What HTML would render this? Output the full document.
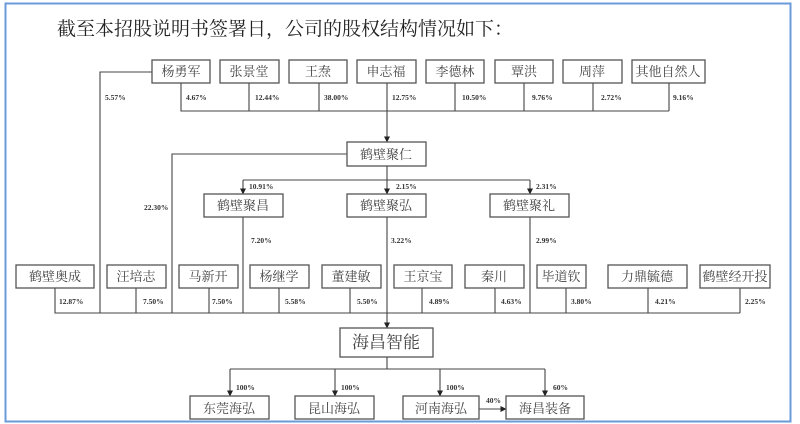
<!DOCTYPE html>
<html><head><meta charset="utf-8"><style>
html,body{margin:0;padding:0;background:#fff;}
svg{display:block;}
.b{fill:#fff;stroke:#555;stroke-width:1.3;}
.t{font-family:"Liberation Serif","Noto Serif CJK SC",serif;font-size:13px;fill:#444;text-anchor:middle;}
.p{font-family:"Liberation Serif",serif;font-size:7.5px;font-weight:bold;fill:#333;}
.l{stroke:#444;stroke-width:1.1;fill:none;}
</style></head><body>
<svg width="800" height="424" viewBox="0 0 800 424" xmlns="http://www.w3.org/2000/svg">
<defs>
<marker id="r" markerWidth="6" markerHeight="6" refX="5.5" refY="3" orient="auto" markerUnits="userSpaceOnUse"><path d="M0,0 L6,3 L0,6 z" fill="#222"/></marker></defs>
<rect x="5.5" y="3.5" width="785" height="418" fill="none" stroke="#6a9bd8" stroke-width="2"/>
<text x="57" y="35" style="font-family:'Noto Serif CJK SC',serif;font-size:19px;fill:#222">截至本招股说明书签署日，公司的股权结构情况如下：</text>

<path class="l" d="M181,83V111H669M249,83V111M319,83V111M387,83V111M455,83V111M524,83V111M593,83V111M669,83V111"/>
<path class="l" d="M387,111V142" marker-end="url(#r)"/>
<path class="l" d="M152,72H100V313"/>
<path class="l" d="M347,154H172V313"/>
<path class="l" d="M387,166V180M243,180H530"/>
<path class="l" d="M243,180V194" marker-end="url(#r)"/>
<path class="l" d="M387,180V194" marker-end="url(#r)"/>
<path class="l" d="M530,180V194" marker-end="url(#r)"/>
<path class="l" d="M243,217V313M530,217V313"/>
<path class="l" d="M387,217V328" marker-end="url(#r)"/>
<path class="l" d="M55,288V313H740M136,288V313M209,288V313M279,288V313M350,288V313M422,288V313M495,288V313M566,288V313M648,288V313M740,288V313"/>
<path class="l" d="M387,357V369M230,369H545"/>
<path class="l" d="M230,369V396" marker-end="url(#r)"/>
<path class="l" d="M335,369V396" marker-end="url(#r)"/>
<path class="l" d="M440,369V396" marker-end="url(#r)"/>
<path class="l" d="M545,369V396" marker-end="url(#r)"/>
<path class="l" d="M479,409H506" marker-end="url(#r)"/>

<rect class="b" x="152" y="60" width="58" height="23"/><text class="t" x="181" y="76">杨勇军</text>
<rect class="b" x="220" y="60" width="59" height="23"/><text class="t" x="249" y="76">张景堂</text>
<rect class="b" x="289" y="60" width="58" height="23"/><text class="t" x="318" y="76">王焘</text>
<rect class="b" x="357" y="60" width="59" height="23"/><text class="t" x="386" y="76">申志福</text>
<rect class="b" x="426" y="60" width="58" height="23"/><text class="t" x="455" y="76">李德林</text>
<rect class="b" x="495" y="60" width="58" height="23"/><text class="t" x="524" y="76">覃洪</text>
<rect class="b" x="563" y="60" width="59" height="23"/><text class="t" x="592" y="76">周萍</text>
<rect class="b" x="632" y="60" width="73" height="23"/><text class="t" x="668" y="76">其他自然人</text>

<text class="p" x="105" y="100">5.57%</text>
<text class="p" x="186" y="100">4.67%</text>
<text class="p" x="255" y="100">12.44%</text>
<text class="p" x="324" y="100">38.00%</text>
<text class="p" x="392" y="100">12.75%</text>
<text class="p" x="462" y="100">10.50%</text>
<text class="p" x="532" y="100">9.76%</text>
<text class="p" x="601" y="100">2.72%</text>
<text class="p" x="673" y="100">9.16%</text>

<rect class="b" x="347" y="142" width="79" height="24"/><text class="t" x="386" y="159">鹤壁聚仁</text>
<text class="p" x="144" y="210">22.30%</text>
<text class="p" x="249" y="189">10.91%</text>
<text class="p" x="396" y="189">2.15%</text>
<text class="p" x="536" y="189">2.31%</text>

<rect class="b" x="204" y="194" width="79" height="23"/><text class="t" x="243" y="210">鹤壁聚昌</text>
<rect class="b" x="347" y="194" width="79" height="23"/><text class="t" x="386" y="210">鹤壁聚弘</text>
<rect class="b" x="490" y="194" width="79" height="23"/><text class="t" x="529" y="210">鹤壁聚礼</text>
<text class="p" x="251" y="243">7.20%</text>
<text class="p" x="391" y="243">3.22%</text>
<text class="p" x="536" y="243">2.99%</text>

<rect class="b" x="16" y="265" width="78" height="23"/><text class="t" x="55" y="281">鹤壁奥成</text>
<rect class="b" x="107" y="265" width="59" height="23"/><text class="t" x="136" y="281">汪培志</text>
<rect class="b" x="179" y="265" width="59" height="23"/><text class="t" x="208" y="281">马新开</text>
<rect class="b" x="250" y="265" width="59" height="23"/><text class="t" x="279" y="281">杨继学</text>
<rect class="b" x="322" y="265" width="59" height="23"/><text class="t" x="351" y="281">董建敏</text>
<rect class="b" x="394" y="265" width="58" height="23"/><text class="t" x="423" y="281">王京宝</text>
<rect class="b" x="465" y="265" width="59" height="23"/><text class="t" x="494" y="281">秦川</text>
<rect class="b" x="537" y="265" width="49" height="23"/><text class="t" x="561" y="281">毕道钦</text>
<rect class="b" x="608" y="265" width="79" height="23"/><text class="t" x="647" y="281">力鼎毓德</text>
<rect class="b" x="700" y="265" width="70" height="23"/><text class="t" x="735" y="281">鹤壁经开投</text>

<text class="p" x="59" y="304">12.87%</text>
<text class="p" x="143" y="304">7.50%</text>
<text class="p" x="212" y="304">7.50%</text>
<text class="p" x="285" y="304">5.58%</text>
<text class="p" x="357" y="304">5.50%</text>
<text class="p" x="429" y="304">4.89%</text>
<text class="p" x="501" y="304">4.63%</text>
<text class="p" x="571" y="304">3.80%</text>
<text class="p" x="655" y="304">4.21%</text>
<text class="p" x="745" y="304">2.25%</text>

<rect class="b" x="340" y="328" width="93" height="29"/><text class="t" x="386" y="348" style="font-size:17px">海昌智能</text>

<text class="p" x="236" y="390">100%</text>
<text class="p" x="341" y="390">100%</text>
<text class="p" x="446" y="390">100%</text>
<text class="p" x="553" y="390">60%</text>
<text class="p" x="486" y="403">40%</text>

<rect class="b" x="190" y="396" width="79" height="23"/><text class="t" x="229" y="413">东莞海弘</text>
<rect class="b" x="295" y="396" width="79" height="23"/><text class="t" x="334" y="413">昆山海弘</text>
<rect class="b" x="403" y="396" width="76" height="23"/><text class="t" x="441" y="413">河南海弘</text>
<rect class="b" x="506" y="396" width="78" height="23"/><text class="t" x="545" y="413">海昌装备</text>
</svg>
</body></html>
